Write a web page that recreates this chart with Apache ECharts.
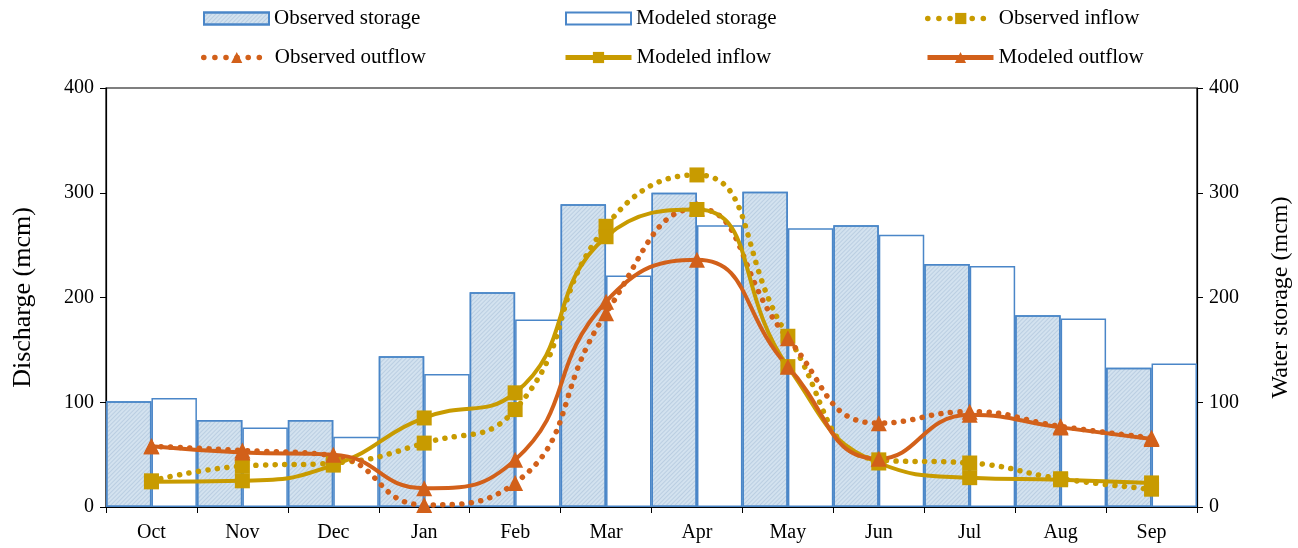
<!DOCTYPE html>
<html>
<head>
<meta charset="utf-8">
<script src="https://cdn.jsdelivr.net/npm/echarts@6/dist/echarts.min.js"></script>
<style>html,body{margin:0;padding:0;background:#fff}#c{width:1298px;height:548px}</style>
</head>
<body>
<div id="c"></div>
<script>
const months = ['Oct','Nov','Dec','Jan','Feb','Mar','Apr','May','Jun','Jul','Aug','Sep'];
const observedStorage = [101, 83, 83, 144, 205, 289, 300, 301, 269, 232, 183, 133];
const modeledStorage  = [104, 76, 67, 127, 179, 221, 269, 266, 260, 230, 180, 137];
const observedInflow  = [25, 39, 42, 61, 93, 268, 317, 163, 45, 42, 27, 17];
const observedOutflow = [58, 54, 49, 2, 23, 185, 285, 161, 80, 91, 77, 66];
const modeledInflow   = [24, 25, 40, 85, 109, 258, 284, 134, 42, 28, 26, 23];
const modeledOutflow  = [58, 52, 50, 18, 45, 196, 236, 134, 46, 88, 76, 65];
const axisTicks = [0, 100, 200, 300, 400];

const GOLD = '#C89B00', ORANGE = '#D2601A', BLUE = '#4A86C8', FILL = '#D3E2EF';
const FONT = 'Liberation Serif';
const DOT = [0.1, 9.5];
const SMOOTH = 0.5;

const chart = echarts.init(document.getElementById('c'), null, {renderer: 'canvas'});

function legendAt(name, left, top, extra) {
  return Object.assign({
    data: [name], left: left, top: top, itemWidth: 66, itemHeight: 14, itemGap: 6,
    textStyle: {fontFamily: FONT, fontSize: 21, color: '#000'}, selectedMode: false
  }, extra || {});
}

const yAxisCommon = {
  type: 'value', min: axisTicks[0], max: axisTicks[axisTicks.length - 1], interval: 100,
  axisLine: {show: true, lineStyle: {color: '#000', width: 1.2}},
  axisTick: {show: true, inside: false, length: 6, lineStyle: {color: '#000'}},
  splitLine: {show: false},
  axisLabel: {fontFamily: FONT, fontSize: 20, color: '#000', margin: 12},
  nameLocation: 'middle'
};

const option = {
  animation: false,
  backgroundColor: '#fff',
  grid: {left: 106, right: 101, top: 88, bottom: 41, show: true, borderColor: '#000', borderWidth: 1.2,
    containLabel: false, outerBoundsMode: 'none'},
  legend: [
    legendAt('Observed storage', 198, 3, {icon: 'rect', itemHeight: 12, itemWidth: 65}),
    legendAt('Modeled storage', 560, 3, {icon: 'rect', itemHeight: 12, itemWidth: 65}),
    legendAt('Observed inflow', 920, 3, {lineStyle: {width: 5.5, type: [0.1, 11], cap: 'round'}}),
    legendAt('Observed outflow', 196, 42, {lineStyle: {width: 5.5, type: [0.1, 11], cap: 'round'}}),
    legendAt('Modeled inflow', 558, 42, {lineStyle: {width: 5}}),
    legendAt('Modeled outflow', 920, 42, {lineStyle: {width: 5}})
  ],
  xAxis: {
    type: 'category', data: months, boundaryGap: true,
    axisLine: {show: true, lineStyle: {color: '#000', width: 1.2}},
    axisTick: {show: true, length: 6, lineStyle: {color: '#000'}},
    axisLabel: {fontFamily: FONT, fontSize: 20, color: '#000', margin: 16},
    splitLine: {show: false}
  },
  yAxis: [
    Object.assign({}, yAxisCommon, {position: 'left', name: 'Discharge (mcm)', nameGap: 70,
      nameTextStyle: {fontFamily: FONT, fontSize: 26, color: '#000'}}),
    Object.assign({}, yAxisCommon, {position: 'right', name: 'Water storage (mcm)', nameGap: 72, nameRotate: 90,
      nameTextStyle: {fontFamily: FONT, fontSize: 24, color: '#000'}})
  ],
  series: [
    {
      name: 'Observed storage', type: 'bar', yAxisIndex: 1, data: observedStorage,
      barGap: '0%', barCategoryGap: '0%', z: 1,
      itemStyle: {color: FILL, borderColor: BLUE, borderWidth: 1.5,
        decal: {symbol: 'rect', color: 'rgba(140,170,200,0.35)', dashArrayX: [1, 0], dashArrayY: [1, 2], rotation: -Math.PI / 4, symbolSize: 1}}
    },
    {
      name: 'Modeled storage', type: 'bar', yAxisIndex: 1, data: modeledStorage,
      barGap: '0%', barCategoryGap: '0%', z: 1,
      itemStyle: {color: '#fff', borderColor: BLUE, borderWidth: 1.5}
    },
    {
      name: 'Observed inflow', type: 'line', yAxisIndex: 0, data: observedInflow, smooth: SMOOTH,
      symbol: 'rect', symbolSize: 15, z: 3,
      lineStyle: {color: GOLD, width: 5.5, type: DOT, cap: 'round'},
      itemStyle: {color: GOLD}
    },
    {
      name: 'Observed outflow', type: 'line', yAxisIndex: 0, data: observedOutflow, smooth: SMOOTH,
      symbol: 'triangle', symbolSize: 16, z: 3,
      lineStyle: {color: ORANGE, width: 5.5, type: DOT, cap: 'round'},
      itemStyle: {color: ORANGE}
    },
    {
      name: 'Modeled inflow', type: 'line', yAxisIndex: 0, data: modeledInflow, smooth: SMOOTH,
      symbol: 'rect', symbolSize: 15, z: 4,
      lineStyle: {color: GOLD, width: 4},
      itemStyle: {color: GOLD}
    },
    {
      name: 'Modeled outflow', type: 'line', yAxisIndex: 0, data: modeledOutflow, smooth: SMOOTH,
      symbol: 'triangle', symbolSize: 16, z: 4,
      lineStyle: {color: ORANGE, width: 4},
      itemStyle: {color: ORANGE}
    }
  ]
};
chart.setOption(option);
</script>
</body>
</html>
